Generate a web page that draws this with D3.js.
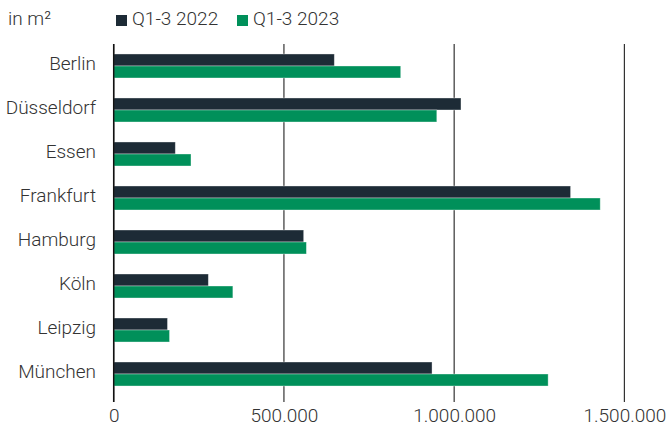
<!DOCTYPE html>
<html>
<head>
<meta charset="utf-8">
<script src="https://cdn.jsdelivr.net/npm/d3@7"></script>
<style>
  body { margin: 0; background: #fff; }
  svg text { font-family: Roboto, "Noto Sans", sans-serif; font-weight: 300; fill: #333; }
</style>
</head>
<body>
<svg class="chart"></svg>
<script>
// categories and values (m², Q1-3)
const cities = ['Berlin', 'Düsseldorf', 'Essen', 'Frankfurt', 'Hamburg', 'Köln', 'Leipzig', 'München'];
const series = ['Q1-3 2022', 'Q1-3 2023'];
const values2022 = [648000, 1020000, 181000, 1342000, 558000, 278000, 158000, 935000];
const values2023 = [843000, 949000, 227000, 1429000, 566000, 350000, 164000, 1276000];
const xTicks = [0, 500000, 1000000, 1500000];
const colors = ['#1d2b36', '#00905a'];

const svgWidth = 667;
const svgHeight = 426;

const svg = d3.select('.chart')
    .attr('width', svgWidth)
    .attr('height', svgHeight);

const data = cities.map((c, i) => ({ city: c, vals: [values2022[i], values2023[i]] }));

// scales
const xScale = d3.scaleLinear()
    .domain([0, 1500000])
    .range([113.7, 624.4]);

const yScale = d3.scaleBand()
    .domain(cities)
    .range([44, 396])
    .paddingInner(0.4545)
    .paddingOuter(0.227);

const ySub = d3.scaleBand()
    .domain(series)
    .range([0, yScale.bandwidth()]);

const fmt = d3.formatLocale({ decimal: ',', thousands: '.', grouping: [3], currency: ['', '€'] }).format(',d');

// gridlines
svg.append('g')
    .selectAll('line')
    .data(xTicks)
    .join('line')
    .attr('x1', d => xScale(d))
    .attr('x2', d => xScale(d))
    .attr('y1', 44)
    .attr('y2', 402)
    .attr('stroke', '#333')
    .attr('stroke-width', 1.2);

// bars
const groups = svg.append('g')
    .selectAll('g')
    .data(data)
    .join('g')
    .attr('transform', d => `translate(0, ${yScale(d.city)})`);

groups.selectAll('rect')
    .data(d => d.vals.map((v, i) => ({ key: series[i], value: v, idx: i })))
    .join('rect')
    .attr('x', xScale(0))
    .attr('y', d => ySub(d.key))
    .attr('width', d => xScale(d.value) - xScale(0))
    .attr('height', ySub.bandwidth())
    .attr('fill', d => colors[d.idx])
    .attr('stroke', '#fff')
    .attr('stroke-opacity', 0.45)
    .attr('stroke-width', 0.8);

// zero line on top
svg.append('line')
    .attr('x1', xScale(0)).attr('x2', xScale(0))
    .attr('y1', 44).attr('y2', 402)
    .attr('stroke', '#111')
    .attr('stroke-width', 1.5);

// category axis
const yAxis = svg.append('g')
    .attr('transform', 'translate(96, 0)')
    .call(d3.axisLeft(yScale).tickSize(0).tickPadding(0));
yAxis.select('.domain').remove();
yAxis.selectAll('text')
    .attr('font-size', 19)
    .attr('dy', '0.21em');

// value axis
const xAxis = svg.append('g')
    .attr('transform', 'translate(0, 404)')
    .call(d3.axisBottom(xScale).tickValues(xTicks).tickFormat(fmt).tickSize(0).tickPadding(0));
xAxis.select('.domain').remove();
xAxis.selectAll('text')
    .attr('font-size', 19)
    .attr('dy', '0.95em');

// unit label + legend
svg.append('text')
    .attr('x', 8)
    .attr('y', 25)
    .attr('font-size', 19)
    .text('in m²');

const legendX = [116, 237];
const legend = svg.append('g')
    .selectAll('g')
    .data(series)
    .join('g')
    .attr('transform', (d, i) => `translate(${legendX[i]}, 0)`);

legend.append('rect')
    .attr('x', 0)
    .attr('y', 15)
    .attr('width', 11)
    .attr('height', 11)
    .attr('fill', (d, i) => colors[i]);

legend.append('text')
    .attr('x', 16)
    .attr('y', 25)
    .attr('font-size', 19)
    .text(d => d);
</script>
</body>
</html>
